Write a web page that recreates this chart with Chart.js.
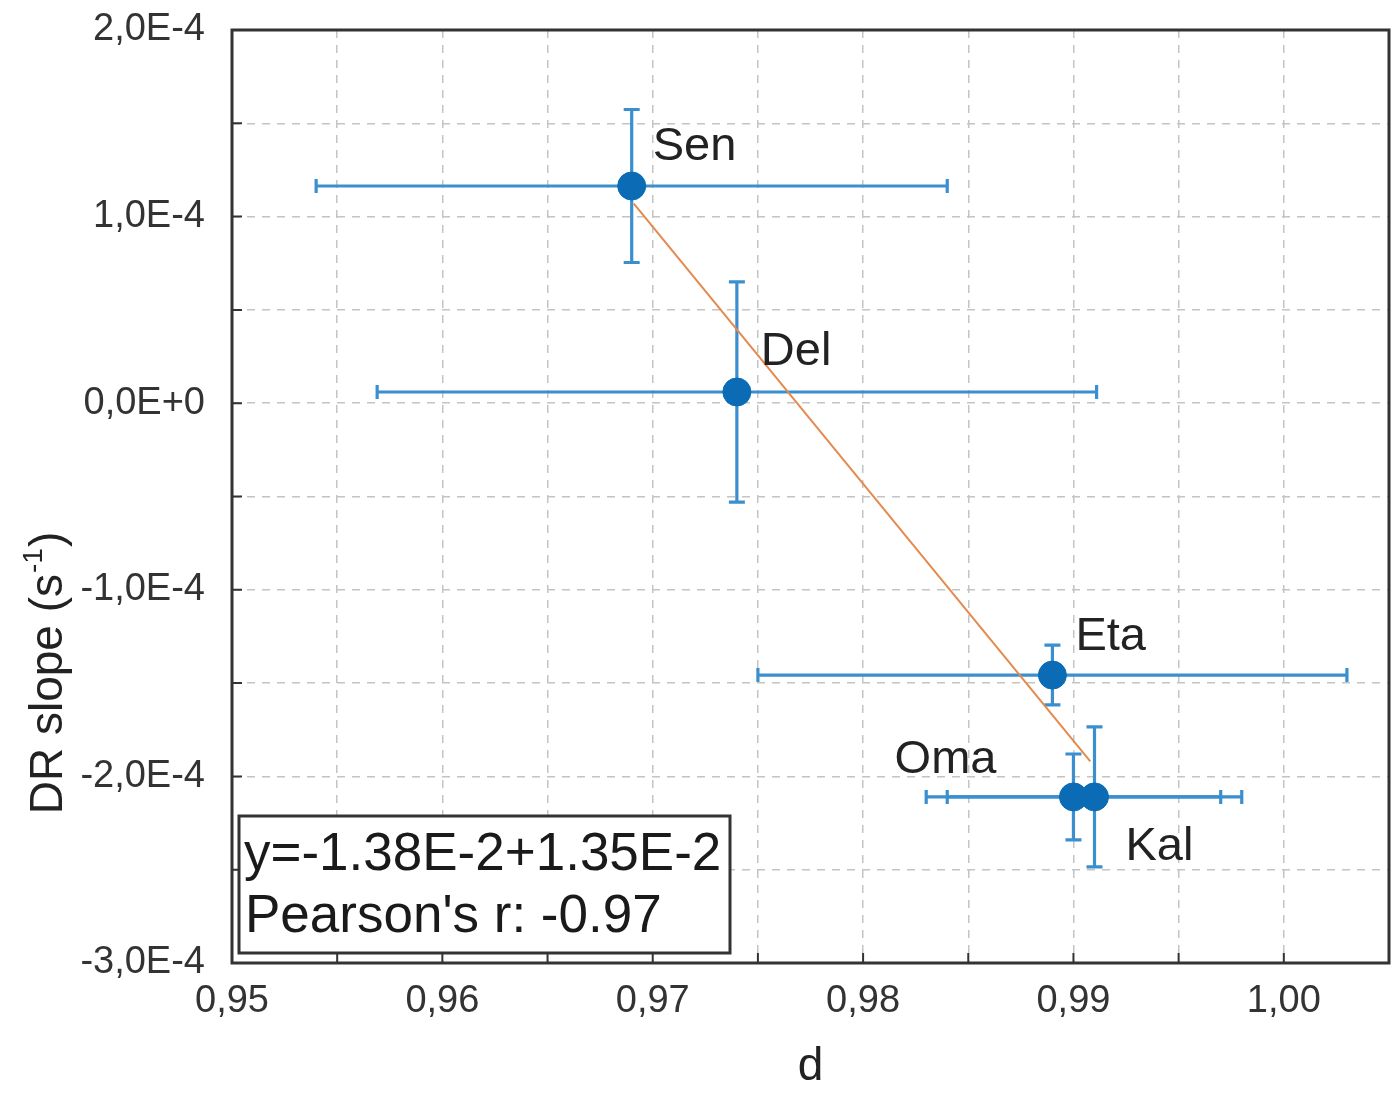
<!DOCTYPE html>
<html>
<head>
<meta charset="utf-8">
<script src="https://cdn.jsdelivr.net/npm/chart.js@4.4.1/dist/chart.umd.min.js"></script>
<style>
html,body{margin:0;padding:0;background:#fff;}
#wrap{width:1397px;height:1095px;position:relative;}
</style>
</head>
<body>
<div id="wrap"><canvas id="c" width="1397" height="1095"></canvas></div>
<script>
// ---- data ----
const names = ['Sen', 'Del', 'Eta', 'Oma', 'Kal'];
const dValues = [0.969, 0.974, 0.989, 0.990, 0.991];
const slopeValues = [1.164e-4, 0.06e-4, -1.457e-4, -2.11e-4, -2.11e-4];
const dErr = [0.0150, 0.0171, 0.0140, 0.0070, 0.0070];
const slopeErr = [0.41e-4, 0.59e-4, 0.16e-4, 0.23e-4, 0.375e-4];
const fitX = [0.9691, 0.9908];
const fitY = [1.07e-4, -1.92e-4];
const fitText = ['y=-1.38E-2+1.35E-2', "Pearson's r: -0.97"];
const xTitle = 'd';
const yTitleMain = 'DR slope (s';
const yTitleSup = '-1';
const yTitleEnd = ')';

// label offsets (pixels) relative to each point
const labelOffsets = [[21, -26], [24, -27], [23, -25], [-77, -24], [31, 63]];
const labelAlign = ['left', 'left', 'left', 'right', 'left'];

const FONT = '"Liberation Sans", Arial, sans-serif';
const ERR_COLOR = '#3b8fcf';
const PT_COLOR = '#0b6cb5';
const PLOT_RIGHT_GAP = 8;

const points = dValues.map((d, i) => ({x: d, y: slopeValues[i]}));
const fitPts = fitX.map((x, i) => ({x: x, y: fitY[i]}));

const decorPlugin = {
  id: 'decor',
  afterLayout(chart) {
    const a = chart.chartArea;
    const target = chart.width - PLOT_RIGHT_GAP;
    if (Math.abs(a.right - target) > 0.5) {
      a.right = target;
      a.width = a.right - a.left;
      const xs = chart.scales.x;
      xs.right = target;
      xs.width = target - xs.left;
      xs.configure();
    }
  },
  beforeDatasetsDraw(chart) {
    const ctx = chart.ctx, xs = chart.scales.x, ys = chart.scales.y;
    ctx.save();
    ctx.strokeStyle = ERR_COLOR;
    ctx.lineWidth = 3.2;
    for (let i = 0; i < dValues.length; i++) {
      const cx = xs.getPixelForValue(dValues[i]);
      const cy = ys.getPixelForValue(slopeValues[i]);
      const x1 = xs.getPixelForValue(dValues[i] - dErr[i]);
      const x2 = xs.getPixelForValue(dValues[i] + dErr[i]);
      const y1 = ys.getPixelForValue(slopeValues[i] + slopeErr[i]);
      const y2 = ys.getPixelForValue(slopeValues[i] - slopeErr[i]);
      ctx.beginPath();
      ctx.moveTo(x1, cy); ctx.lineTo(x2, cy);
      ctx.moveTo(x1, cy - 7); ctx.lineTo(x1, cy + 7);
      ctx.moveTo(x2, cy - 7); ctx.lineTo(x2, cy + 7);
      ctx.moveTo(cx, y1); ctx.lineTo(cx, y2);
      ctx.moveTo(cx - 8, y1); ctx.lineTo(cx + 8, y1);
      ctx.moveTo(cx - 8, y2); ctx.lineTo(cx + 8, y2);
      ctx.stroke();
    }
    ctx.restore();
  },
  afterDraw(chart) {
    const ctx = chart.ctx, xs = chart.scales.x, ys = chart.scales.y;
    const a = chart.chartArea;
    ctx.save();
    // inward ticks
    ctx.strokeStyle = '#333';
    ctx.lineWidth = 2;
    ctx.beginPath();
    xs.ticks.forEach(t => {
      const px = xs.getPixelForValue(t.value);
      ctx.moveTo(px, a.bottom); ctx.lineTo(px, a.bottom - 10);
    });
    ys.ticks.forEach(t => {
      const py = ys.getPixelForValue(t.value);
      ctx.moveTo(a.left, py); ctx.lineTo(a.left + 10, py);
    });
    ctx.stroke();
    // frame
    ctx.lineWidth = 3;
    ctx.strokeRect(a.left, a.top, a.right - a.left, a.bottom - a.top);

    // point labels
    ctx.fillStyle = '#222';
    ctx.font = '47px ' + FONT;
    ctx.textBaseline = 'alphabetic';
    for (let i = 0; i < names.length; i++) {
      const cx = xs.getPixelForValue(dValues[i]);
      const cy = ys.getPixelForValue(slopeValues[i]);
      ctx.textAlign = labelAlign[i];
      ctx.fillText(names[i], cx + labelOffsets[i][0], cy + labelOffsets[i][1]);
    }

    // fit box
    ctx.strokeStyle = '#333';
    ctx.lineWidth = 3;
    ctx.fillStyle = '#fff';
    ctx.fillRect(239, 816, 491, 137);
    ctx.strokeRect(239, 816, 491, 137);
    ctx.fillStyle = '#1a1a1a';
    ctx.textAlign = 'left';
    ctx.font = '53px ' + FONT;
    ctx.fillText(fitText[0], 244, 870);
    ctx.fillText(fitText[1], 245, 932);

    // y title (rotated)
    ctx.save();
    ctx.translate(62, 673);
    ctx.rotate(-Math.PI / 2);
    ctx.fillStyle = '#222';
    ctx.font = '46px ' + FONT;
    const w1 = ctx.measureText(yTitleMain).width;
    ctx.font = '28px ' + FONT;
    const w2 = ctx.measureText(yTitleSup).width;
    ctx.font = '46px ' + FONT;
    const w3 = ctx.measureText(yTitleEnd).width;
    const total = w1 + w2 + w3 + 2;
    let x0 = -total / 2;
    ctx.textAlign = 'left';
    ctx.fillText(yTitleMain, x0, 0);
    ctx.font = '28px ' + FONT;
    ctx.fillText(yTitleSup, x0 + w1 + 1, -20);
    ctx.font = '46px ' + FONT;
    ctx.fillText(yTitleEnd, x0 + w1 + w2 + 2, 0);
    ctx.restore();

    ctx.restore();
  }
};

new Chart(document.getElementById('c'), {
  type: 'scatter',
  data: {
    datasets: [
      {
        type: 'line',
        data: fitPts,
        borderColor: '#e38a4c',
        borderWidth: 2,
        pointRadius: 0,
        fill: false,
        order: 2
      },
      {
        data: points,
        backgroundColor: PT_COLOR,
        borderColor: PT_COLOR,
        pointRadius: 14,
        pointHoverRadius: 14,
        order: 1
      }
    ]
  },
  options: {
    responsive: false,
    animation: false,
    events: [],
    layout: {padding: {top: 30, right: 8, left: 0, bottom: 0}},
    plugins: {legend: {display: false}, tooltip: {enabled: false}},
    scales: {
      x: {
        type: 'linear',
        min: 0.95, max: 1.005,
        afterFit(s) { s.height = 1095 - 963; s.paddingLeft = 0; s.paddingRight = 0; },
        grid: {color: '#c4c4c4', lineWidth: 1.5, drawTicks: false},
        border: {display: false, dash: [8, 7]},
        ticks: {
          stepSize: 0.005,
          autoSkip: false,
          maxRotation: 0,
          padding: 16,
          color: '#333',
          font: {family: FONT, size: 38},
          callback(v) {
            const k = Math.round(v * 200);
            if (k % 2 !== 0) return '';
            return (k / 200).toFixed(2).replace('.', ',');
          }
        },
        title: {display: true, text: xTitle, color: '#222', font: {family: FONT, size: 46}, padding: {top: 0, bottom: 0}}
      },
      y: {
        type: 'linear',
        min: -3e-4, max: 2e-4,
        afterFit(s) { s.width = 232; s.paddingTop = 0; s.paddingBottom = 0; },
        grid: {color: '#c4c4c4', lineWidth: 1.5, drawTicks: false},
        border: {display: false, dash: [8, 7]},
        ticks: {
          stepSize: 0.5e-4,
          autoSkip: false,
          padding: 27,
          color: '#333',
          font: {family: FONT, size: 38},
          callback(v) {
            const k = Math.round(v * 2e4);
            if (k % 2 !== 0) return '';
            const n = k / 2;
            return n.toFixed(1).replace('.', ',') + (n === 0 ? 'E+0' : 'E-4');
          }
        }
      }
    }
  },
  plugins: [decorPlugin]
});
</script>
</body>
</html>
